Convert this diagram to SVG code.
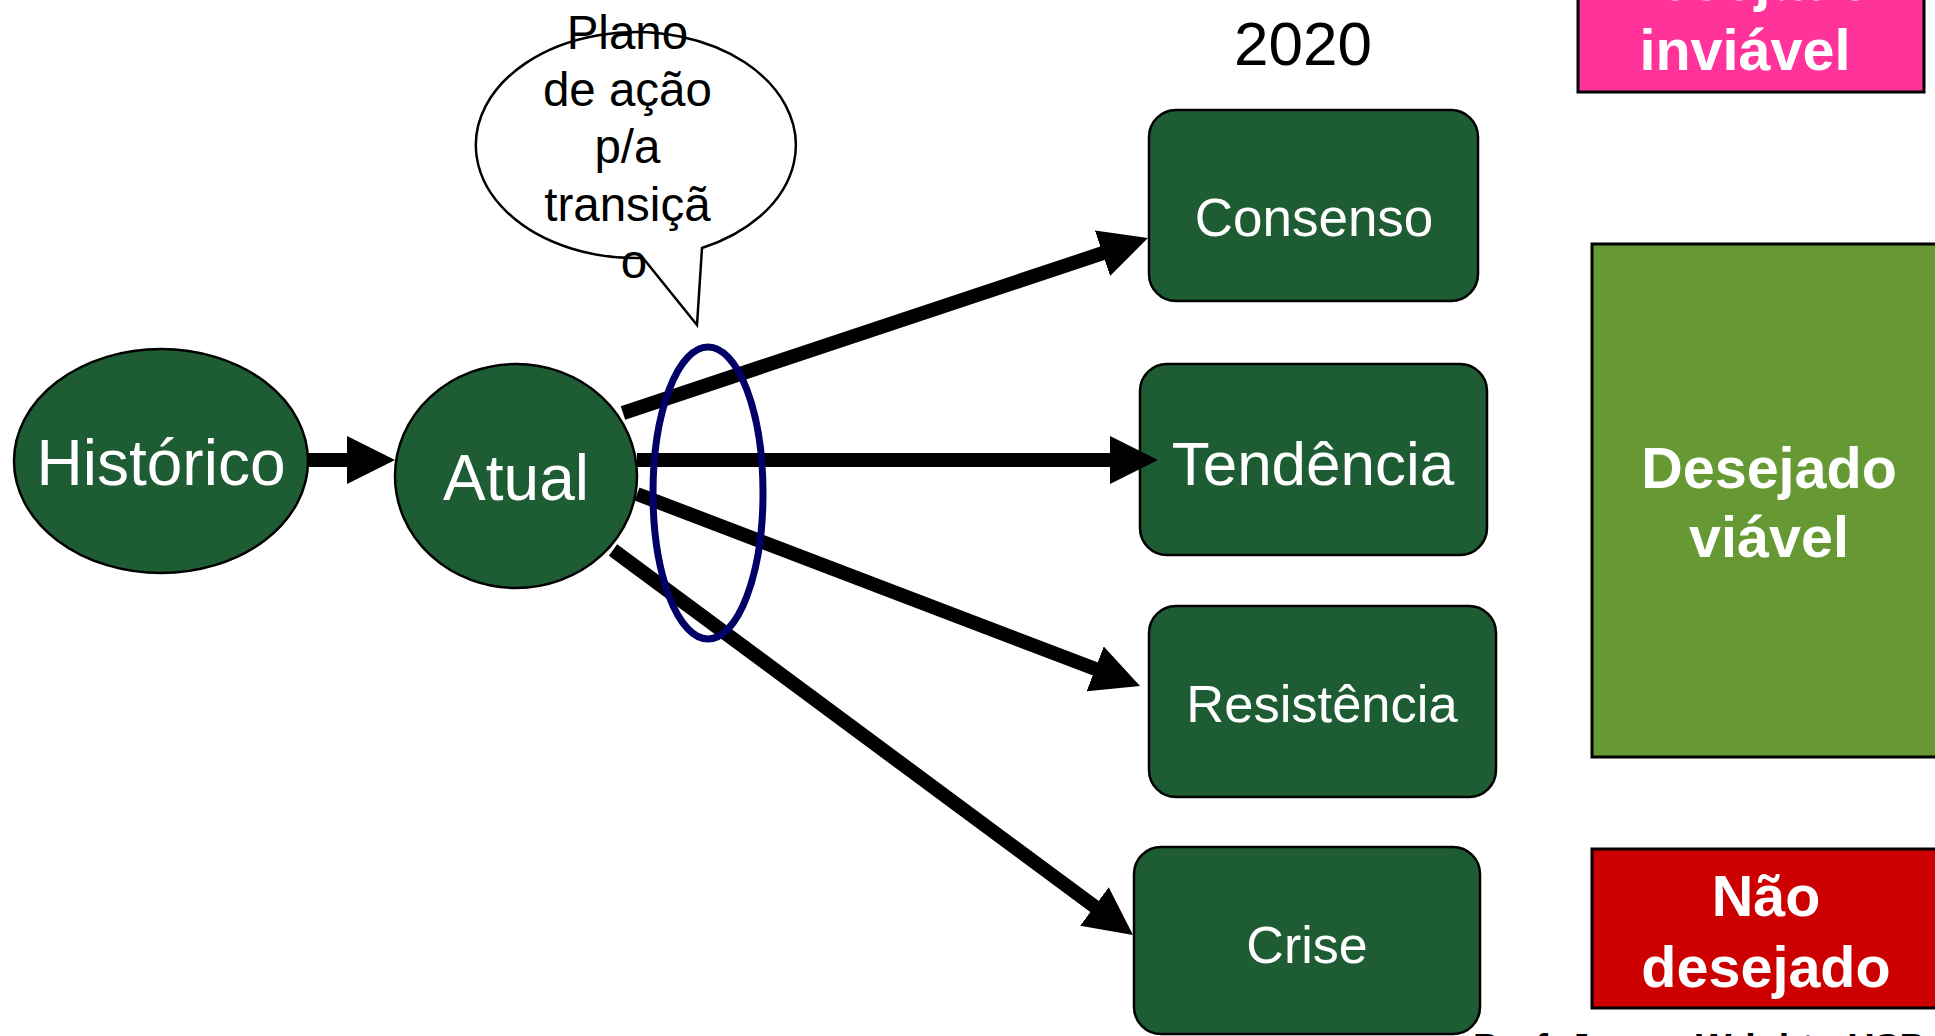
<svg xmlns="http://www.w3.org/2000/svg" width="1935" height="1036" viewBox="0 0 1935 1036">
<defs>
<style>
.node{fill:#1e5c34;stroke:#000;stroke-width:2.5}
.wt{font-family:"Liberation Sans",Arial,sans-serif;fill:#fff;text-anchor:middle}
.bt{font-family:"Liberation Sans",Arial,sans-serif;fill:#fff;text-anchor:middle;font-weight:bold;font-size:57.5px}
.kt{font-family:"Liberation Sans",Arial,sans-serif;fill:#000;text-anchor:middle}
.conn{stroke:#000;stroke-width:14;fill:none;marker-end:url(#ah)}
.box{stroke:#000;stroke-width:3}
</style>
<marker id="ah" markerUnits="userSpaceOnUse" viewBox="0 0 48 48" markerWidth="48" markerHeight="48" refX="18" refY="24" orient="auto">
<path d="M0,0 L48,24 L0,48 Z" fill="#000"/>
</marker>
</defs>
<rect width="1935" height="1036" fill="#fff"/>

<g id="titulo-2020">
<text class="kt" x="1303" y="65" font-size="62">2020</text>
</g>

<g id="desejado-inviavel">
<rect class="box" x="1578" y="-40" width="346" height="132" fill="#ff3399"/>
<text class="bt" x="1745" y="0">Desejado</text>
<text class="bt" x="1745" y="70">inviável</text>
</g>

<g id="desejado-viavel">
<rect class="box" x="1592" y="244" width="362" height="513" fill="#669933"/>
<text class="bt" x="1769" y="488">Desejado</text>
<text class="bt" x="1769" y="557">viável</text>
</g>

<g id="nao-desejado">
<rect class="box" x="1592" y="849" width="362" height="159" fill="#cc0000"/>
<text class="bt" x="1766" y="916">Não</text>
<text class="bt" x="1766" y="987">desejado</text>
</g>

<g id="historico">
<ellipse class="node" cx="161" cy="461" rx="147" ry="112"/>
<text class="wt" x="161" y="485" font-size="64">Histórico</text>
</g>

<g id="atual">
<ellipse class="node" cx="516" cy="476" rx="121" ry="112"/>
<text class="wt" x="516" y="500" font-size="64">Atual</text>
</g>

<g id="plano">
<path d="M702,248 A160,113 0 1 0 643,258 L697,325 Z" fill="#fff" stroke="#000" stroke-width="2.5"/>
<text class="kt" font-size="47.5">
<tspan x="634" y="49">Plano</tspan>
<tspan x="634" y="106">de ação</tspan>
<tspan x="634" y="163">p/a</tspan>
<tspan x="634" y="221">transiçã</tspan>
<tspan x="634" y="278">o</tspan>
</text>
</g>

<g id="consenso">
<rect class="node" x="1149" y="110" width="329" height="191" rx="27"/>
<text class="wt" x="1314" y="236" font-size="53">Consenso</text>
</g>

<g id="tendencia">
<rect class="node" x="1140" y="364" width="347" height="191" rx="27"/>
<text class="wt" x="1313" y="485" font-size="62">Tendência</text>
</g>

<g id="resistencia">
<rect class="node" x="1149" y="606" width="347" height="191" rx="27"/>
<text class="wt" x="1322" y="722" font-size="52.5">Resistência</text>
</g>

<g id="crise">
<rect class="node" x="1134" y="847" width="346" height="187" rx="27"/>
<text class="wt" x="1307" y="963" font-size="52">Crise</text>
</g>

<g id="connectors">
<line class="conn" x1="307" y1="460" x2="365" y2="460"/>
<line class="conn" x1="623" y1="413" x2="1119.5" y2="247.5"/>
<line class="conn" x1="637" y1="460" x2="1128" y2="460"/>
<line class="conn" x1="637" y1="494" x2="1112" y2="675.3"/>
<line class="conn" x1="613" y1="550" x2="1108.9" y2="917.2"/>
</g>

<g id="transicao">
<ellipse cx="708" cy="493" rx="55" ry="146" fill="none" stroke="#000066" stroke-width="7"/>
</g>

<g id="autor">
<text x="1473" y="1060" font-family="Liberation Sans, Arial, sans-serif" font-weight="bold" font-size="37.5" fill="#000">Prof. James Wright - USP</text>
</g>
</svg>
